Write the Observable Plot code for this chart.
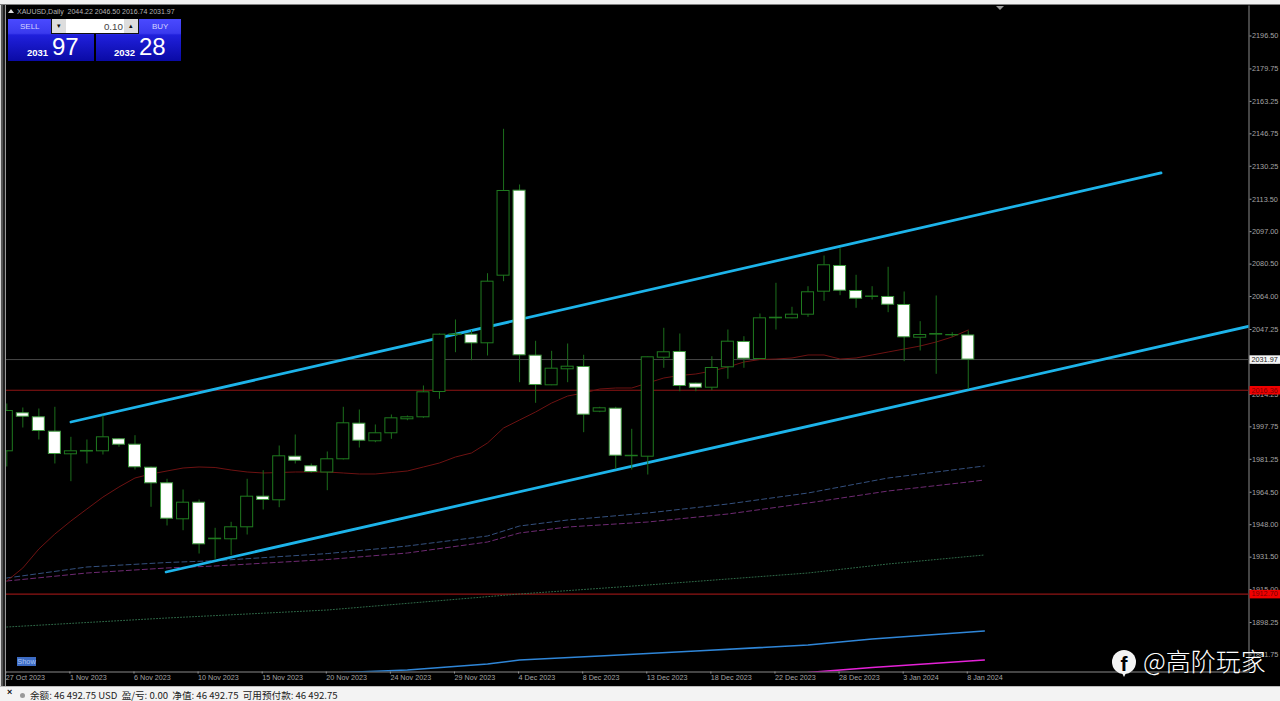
<!DOCTYPE html>
<html lang="zh">
<head>
<meta charset="utf-8">
<title>XAUUSD,Daily</title>
<script src="https://cdn.jsdelivr.net/npm/d3@7"></script>
<script src="https://cdn.jsdelivr.net/npm/@observablehq/plot@0.6"></script>
<style>
  html,body{margin:0;padding:0;background:#000;width:1280px;height:701px;overflow:hidden;font-family:"Liberation Sans",sans-serif}
  #stage{position:relative;width:1280px;height:701px;overflow:hidden}
  #chart{position:absolute;left:0;top:0}
  #chart svg{display:block}
  #topstrip{position:absolute;left:0;top:0;width:1280px;height:4px;background:#f1f1f1;border-bottom:1px solid #808080}
  #leftstrip{position:absolute;left:0;top:5px;width:6px;height:681px;background:linear-gradient(90deg,#d8d8d8 0 1px,#555 1px 3px,#222 3px 5px,#999 5px 6px)}
  #shift{position:absolute;left:996px;top:6px;width:0;height:0;border-left:4px solid transparent;border-right:4px solid transparent;border-top:4px solid #9a9a9a}
  #symbol{position:absolute;left:17px;top:7px;color:#b4b4b4;font-size:7px;white-space:pre;line-height:9px}
  #symbol:before{content:"";position:absolute;left:-9px;top:2px;border-left:3px solid transparent;border-right:3px solid transparent;border-bottom:4px solid #ddd}
  .btn{position:absolute;top:19px;height:42px;background:linear-gradient(180deg,#4a4aff 0%,#3a3aee 34%,#2020dc 38%,#0a0aa5 100%);color:#fff}
  .btn .lab{position:absolute;top:3px;font-size:8px;color:#d5d5ff}
  .btn .small{position:absolute;top:28px;font-size:9.5px;font-weight:bold}
  .btn .big{position:absolute;top:13px;font-size:24px;line-height:30px}
  #qty{position:absolute;left:51px;top:19px;width:88px;height:15px;background:#fff;box-sizing:border-box;border-bottom:1px solid #111;border-left:1px solid #111;border-right:1px solid #111}
  #qty .val{position:absolute;right:15px;top:2px;font-size:9.8px;color:#444}
  #qty .sp{position:absolute;top:0;width:14px;height:14px;background:#ddd;color:#111;font-size:7px;line-height:14px;text-align:center}
  #show{position:absolute;left:17px;top:657px;width:19px;height:9px;background:#3d6cc4;color:#a9c4f2;font-size:7.4px;line-height:9px;text-align:center}
  #status{position:absolute;left:0;top:686px;width:1280px;height:15px;background:#f3f3f3;border-top:1px solid #bbb;box-sizing:border-box;color:#222}
  #status .x{position:absolute;left:7px;top:0;font-size:9px;line-height:11px;font-weight:bold;color:#111}
  #status .dot{position:absolute;left:20px;top:6px;width:5px;height:5px;border-radius:50%;background:#999}
  #status .txt{position:absolute;left:30px;top:2px;font-family:"Noto Sans CJK SC","Liberation Sans",sans-serif;font-size:9.6px;line-height:12px;white-space:pre}
  #mark{position:absolute;left:1112px;top:646px;height:32px;color:#fff}
  #mark .ico{position:absolute;left:0;top:4px;width:24px;height:24px;border-radius:50%;background:#f4f4f4;color:#000;font:bold 21px/27px "Liberation Sans",sans-serif;text-align:center}
  #mark .ico:after{content:"";position:absolute;left:9px;top:21px;border-left:3px solid transparent;border-right:3px solid transparent;border-top:6px solid #f4f4f4}
  #mark .txt{position:absolute;left:31px;top:-2px;font-family:"Noto Sans CJK SC",sans-serif;font-weight:300;font-size:25px;line-height:32px;white-space:nowrap}
</style>
</head>
<body>
<div id="stage">
  <div id="chart"></div>
  <div id="topstrip"></div>
  <div id="leftstrip"></div>
  <div id="shift"></div>
  <div id="symbol">XAUUSD,Daily  2044.22 2046.50 2016.74 2031.97</div>
  <div class="btn" style="left:8px;width:86px"><span class="lab" style="left:12px">SELL</span><span class="small" style="left:19px">2031</span><span class="big" style="left:44px">97</span></div>
  <div class="btn" style="left:96px;width:85px"><span class="lab" style="left:56px">BUY</span><span class="small" style="left:18px">2032</span><span class="big" style="left:43px">28</span></div>
  <div id="qty"><span class="sp" style="left:0">&#9662;</span><span class="val">0.10</span><span class="sp" style="right:0">&#9652;</span></div>
  <div id="show">Show</div>
  <div id="mark"><div class="ico">f</div><div class="txt">@高阶玩家</div></div>
  <div id="status"><span class="x">×</span><span class="dot"></span><span class="txt">余额: 46 492.75 USD  盈/亏: 0.00  净值: 46 492.75  可用预付款: 46 492.75</span></div>
</div>
<script>
// ---- Data (XAUUSD, Daily) ----
const opens = [1985.32,2004.65,2002.61,1995.29,1983.80,1985.20,1985.32,1991.43,1988.68,1976.98,1969.05,1950.75,1959.19,1940.60,1940.58,1946.68,1962.24,1960.41,1982.58,1977.70,1974.54,1981.26,1999.36,1990.41,1994.48,2001.60,2002.61,2015.48,2044.45,2044.62,2040.24,2074.62,2117.84,2033.94,2018.88,2027.02,2028.19,2005.46,2006.99,1982.80,1982.58,2032.92,2035.82,2019.70,2017.66,2028.04,2040.90,2032.26,2052.95,2052.95,2054.79,2066.48,2079.55,2066.84,2063.80,2063.79,2059.72,2043.09,2044.65,2044.30,2044.22];
const highs = [2009.38,2007.34,2006.83,2007.70,1992.44,1991.07,2003.27,1991.80,1993.26,1977.34,1971.09,1965.64,1960.56,1946.17,1949.22,1971.09,1975.46,1988.02,1993.61,1978.87,1984.97,2007.70,2006.32,1998.70,2003.78,2003.27,2018.53,2044.97,2052.09,2046.65,2075.63,2149.06,2120.74,2041.26,2036.17,2039.89,2034.14,2007.70,2007.70,1996.51,2033.27,2047.87,2044.97,2020.06,2033.43,2047.00,2043.60,2055.14,2070.75,2058.55,2069.02,2084.63,2088.35,2074.82,2069.02,2078.89,2066.33,2051.23,2064.29,2045.63,2046.50];
const lows = [1977.34,1997.17,1991.07,1978.87,1969.87,1978.87,1983.44,1987.36,1975.81,1956.85,1947.34,1944.95,1933.10,1930.41,1932.24,1942.76,1955.47,1956.64,1978.87,1974.14,1965.29,1980.90,1987.00,1989.70,1991.43,2000.88,2002.10,2011.77,2035.46,2031.39,2033.78,2071.57,2020.21,2009.73,2018.70,2020.21,1994.78,2004.95,1976.17,1975.81,1973.27,2027.53,2015.63,2015.63,2016.14,2021.94,2027.53,2032.00,2047.00,2052.70,2053.46,2061.60,2064.45,2058.04,2062.26,2055.80,2030.89,2036.33,2024.48,2043.29,2016.74];
const closes = [2005.81,2002.92,1995.65,1983.95,1985.32,1985.50,1992.44,1988.68,1977.19,1969.05,1951.05,1959.19,1938.03,1940.90,1946.68,1962.24,1960.56,1982.78,1980.54,1974.80,1981.26,1999.56,1990.71,1994.48,2002.10,2002.61,2015.32,2044.62,2044.75,2040.24,2071.57,2117.69,2034.14,2019.04,2027.33,2028.34,2003.94,2007.19,1983.09,1983.05,2033.12,2035.67,2018.53,2017.66,2027.68,2041.06,2032.41,2052.95,2053.25,2054.79,2066.18,2079.91,2066.99,2062.92,2064.05,2059.87,2043.29,2044.46,2044.95,2044.46,2031.97];

// Moving averages
const redMa = [1919.37,1926.00,1935.64,1943.27,1949.88,1956.00,1962.05,1967.17,1971.75,1973.78,1975.31,1976.83,1977.34,1977.09,1975.81,1974.80,1974.29,1974.54,1974.80,1974.80,1974.80,1974.29,1973.78,1973.78,1974.54,1975.31,1977.34,1979.38,1982.43,1984.47,1989.55,1997.17,2001.24,2005.31,2009.88,2013.44,2014.97,2017.00,2017.51,2017.51,2020.06,2022.60,2023.87,2024.63,2026.15,2028.19,2030.73,2032.00,2032.26,2032.77,2034.29,2034.29,2032.26,2032.77,2034.29,2035.82,2037.34,2038.87,2040.90,2043.45,2047.00];
const blueDashBars = [0,5,10,13,20,25,30,32,35,40,45,50,55,60,61];
const blueDash = [1920.90,1926.49,1928.78,1929.69,1933.31,1937.17,1942.25,1947.34,1950.39,1953.95,1958.53,1964.12,1971.75,1976.83,1977.85];
const purpleDash = [1919.37,1923.44,1926.00,1927.00,1930.30,1933.61,1939.20,1943.78,1946.83,1949.37,1953.44,1959.03,1965.13,1969.71,1970.73];
const greenDotBars = [0,10,20,32,40,50,55,61];
const greenDot = [1895.98,1900.56,1904.62,1912.76,1917.34,1923.44,1928.02,1932.59];
const blueSolidBars = [21,25,30,32,37,43,50,54,61];
const blueSolid = [1872.84,1874.11,1877.17,1879.20,1881.23,1883.78,1886.83,1889.88,1893.95];
const magentaBars = [50,54,61];
const magenta = [1872.84,1875.39,1879.20];

// Channel trend lines [bar, price]
const upperBars = [4.0,72.03];
const upperPrices = [2000.22,2126.84];
const lowerBars = [9.94,77.58];
const lowerPrices = [1923.95,2049.04];

// Price levels
const bidPrice = 2031.97;
const redLevels = [2016.36,1912.70];
const redLevelLabels = ["2016.36","1912.70"];

// Axes
const dateBars = [0,4,8,12,16,20,24,28,32,36,40,44,48,52,56,60];
const dateLabels = ["27 Oct 2023","1 Nov 2023","6 Nov 2023","10 Nov 2023","15 Nov 2023","20 Nov 2023","24 Nov 2023","29 Nov 2023","4 Dec 2023","8 Dec 2023","13 Dec 2023","18 Dec 2023","22 Dec 2023","28 Dec 2023","3 Jan 2024","8 Jan 2024"];
const priceTicks = [2196.50,2179.75,2163.25,2146.75,2130.25,2113.50,2097.00,2080.50,2064.00,2047.25,2030.75,2014.25,1997.75,1981.25,1964.50,1948.00,1931.50,1915.00,1898.25,1881.75];
const xMin = -0.05, xMax = 77.52, xTagEnd = 79.5;
const yMin = 1873.1, yMax = 2211.75;

// ---- Tables built from the arrays ----
const candles = opens.map((o,i)=>({i,o,h:highs[i],l:lows[i],c:closes[i]}));
const series = (bars,vals)=>bars.map((x,k)=>({x,y:vals[k]}));
const HALF = 0.375;
const wickGreen = "#1c6e1c", axisGray = "#a4a4a4";

const line = (data,opts)=>Plot.line(data,{x:"x",y:"y",clip:"frame",...opts});

const plot = Plot.plot({
  width:1280, height:686,
  marginLeft:5.5, marginRight:31.5, marginTop:5.5, marginBottom:14.5,
  style:{background:"#000",fontFamily:"'Liberation Sans',sans-serif"},
  x:{type:"linear",domain:[xMin,xMax]},
  y:{type:"linear",domain:[yMin,yMax]},
  marks:[
    Plot.axisY(priceTicks,{anchor:"right",label:null,tickSize:2,tickPadding:1,tickFormat:d=>d.toFixed(2),fontSize:7.3,stroke:axisGray,fill:axisGray,textAnchor:"start"}),
    Plot.axisX(dateBars,{anchor:"bottom",label:null,tickSize:2,tickPadding:1,tickFormat:d=>dateLabels[dateBars.indexOf(d)],fontSize:7.2,stroke:axisGray,fill:axisGray,textAnchor:"start",dx:-1}),
    Plot.ruleX([xMax],{stroke:"#8a8a8a",strokeWidth:1}),
    Plot.ruleY([yMin],{stroke:"#8a8a8a",strokeWidth:1}),
    // price levels
    Plot.ruleY([bidPrice],{stroke:"#474747",strokeWidth:1}),
    Plot.ruleY(redLevels,{stroke:"#8f1414",strokeWidth:1.2}),
    // moving averages
    line(series(blueDashBars,blueDash),{stroke:"#34507e",strokeWidth:1,strokeDasharray:"5,3"}),
    line(series(blueDashBars,purpleDash),{stroke:"#6e2a72",strokeWidth:1,strokeDasharray:"5,3"}),
    line(series(greenDotBars,greenDot),{stroke:"#2f6a48",strokeWidth:1,strokeDasharray:"1,2"}),
    line(series(blueSolidBars,blueSolid),{stroke:"#2f86d8",strokeWidth:1.6}),
    line(series(magentaBars,magenta),{stroke:"#e522d8",strokeWidth:1.6}),
    line(redMa.map((y,x)=>({x,y})),{stroke:"#6e1212",strokeWidth:1}),
    // channel
    line(series(upperBars,upperPrices),{stroke:"#1db4ea",strokeWidth:2.8}),
    line(series(lowerBars,lowerPrices),{stroke:"#1db4ea",strokeWidth:2.8}),
    // candles
    Plot.ruleX(candles,{x:"i",y1:"l",y2:"h",stroke:wickGreen,strokeWidth:1}),
    Plot.rect(candles,{
      x1:d=>d.i-HALF, x2:d=>d.i+HALF, y1:"o", y2:"c",
      fill:d=>d.c<d.o?"#fff":"#000",
      stroke:d=>d.c<d.o?"#3f9a3f":"#1f7a1f",
      strokeWidth:1
    }),
    // price tags over the axis
    Plot.ruleY([bidPrice],{x1:xMax+0.06,x2:xTagEnd,stroke:"#f4f4f4",strokeWidth:8.5}),
    Plot.text([bidPrice],{x:xMax+0.15,y:d=>d,text:d=>d.toFixed(2),fill:"#222",fontSize:7.3,textAnchor:"start"}),
    Plot.ruleY(redLevels,{x1:xMax+0.06,x2:xTagEnd,stroke:"#f00000",strokeWidth:8.5}),
    Plot.text(redLevels,{x:xMax+0.15,y:d=>d,text:(d,i)=>redLevelLabels[i],fill:"#7a0000",fontSize:7.3,textAnchor:"start"})
  ]
});
document.getElementById("chart").append(plot);
</script>
</body>
</html>
